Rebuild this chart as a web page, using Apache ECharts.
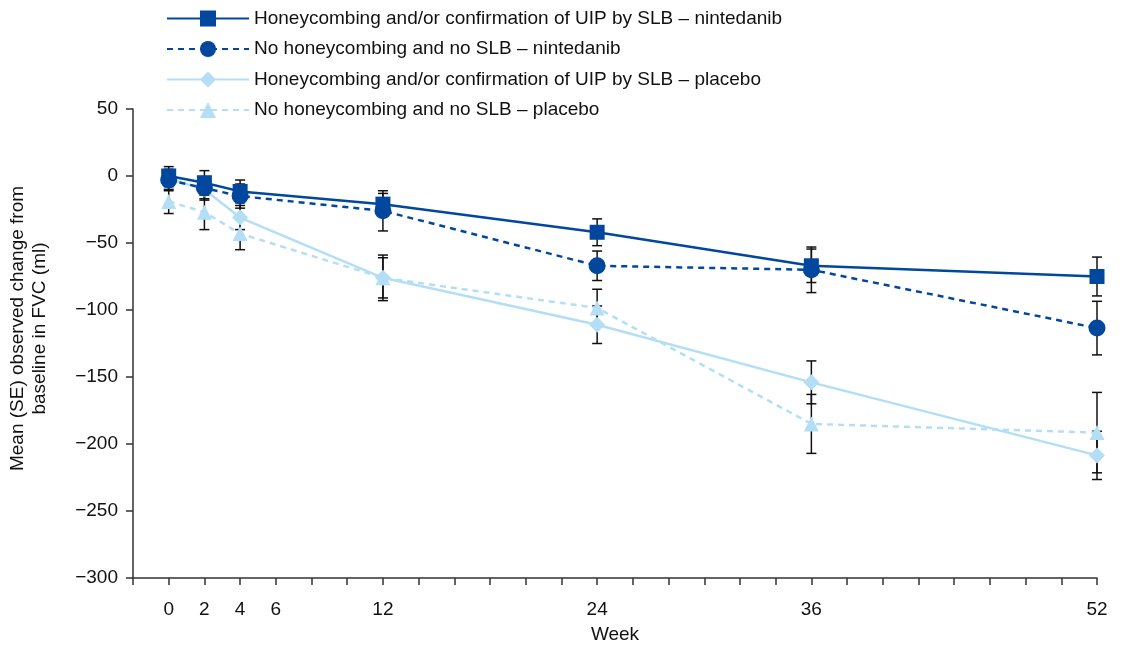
<!DOCTYPE html>
<html>
<head>
<meta charset="utf-8">
<script src="https://cdn.jsdelivr.net/npm/echarts@6/dist/echarts.min.js"></script>
<style>
html,body{margin:0;padding:0;background:#fff;}
#chart{width:1122px;height:645px;}
</style>
</head>
<body>
<div id="chart"></div>
<script>
var weeks = [0, 2, 4, 12, 24, 36, 52];
var xTickLabels = [0, 2, 4, 6, 12, 24, 36, 52];
var seriesNames = [
  'Honeycombing and/or confirmation of UIP by SLB \u2013 nintedanib',
  'No honeycombing and no SLB \u2013 nintedanib',
  'Honeycombing and/or confirmation of UIP by SLB \u2013 placebo',
  'No honeycombing and no SLB \u2013 placebo'
];
var hcNintedanib = [0, -5, -11.5, -21, -42, -67, -75];
var hcNintedanibSE = [7, 9, 8.5, 8, 10, 12.5, 14.5];
var noNintedanib = [-3, -9, -15, -26, -67, -70, -113.5];
var noNintedanibSE = [8, 8, 9, 15, 11, 17, 20];
var hcPlacebo = [-2, -10, -31, -76, -111, -154, -208.5];
var hcPlaceboSE = [6, 8, 9, 17, 14, 16, 18];
var noPlacebo = [-19, -27, -43, -76, -98.5, -185, -191.5];
var noPlaceboSE = [9, 13, 12, 15, 14, 22, 30];

var DARK = '#00479d';
var LIGHT = '#b3def6';
var FONT = 'Liberation Sans, Arial, sans-serif';

function pts(vals) { return weeks.map(function (w, i) { return [w, vals[i]]; }); }
function errData(vals, se) { return weeks.map(function (w, i) { return [w, vals[i] - se[i], vals[i] + se[i]]; }); }

function errSeries(vals, se) {
  return {
    type: 'custom',
    silent: true,
    z: 1,
    data: errData(vals, se),
    encode: { x: 0, y: [1, 2] },
    renderItem: function (params, api) {
      var x = api.value(0);
      var lo = api.coord([x, api.value(1)]);
      var hi = api.coord([x, api.value(2)]);
      var c = 5;
      var st = { stroke: '#111', lineWidth: 1.5 };
      return {
        type: 'group',
        children: [
          { type: 'line', shape: { x1: lo[0], y1: lo[1], x2: hi[0], y2: hi[1] }, style: st },
          { type: 'line', shape: { x1: lo[0] - c, y1: lo[1], x2: lo[0] + c, y2: lo[1] }, style: st },
          { type: 'line', shape: { x1: hi[0] - c, y1: hi[1], x2: hi[0] + c, y2: hi[1] }, style: st }
        ]
      };
    }
  };
}

function lineSeries(name, vals, color, dashed, symbol, size) {
  return {
    name: name,
    type: 'line',
    z: 3,
    data: pts(vals),
    symbol: symbol,
    symbolSize: size,
    showAllSymbol: true,
    itemStyle: { color: color, opacity: 1 },
    lineStyle: { color: color, width: 2.5, type: dashed ? [6, 5] : 'solid' },
    emphasis: { disabled: true }
  };
}

var chart = echarts.init(document.getElementById('chart'));
chart.setOption({
  animation: false,
  backgroundColor: '#fff',
  textStyle: { fontFamily: FONT },
  legend: {
    left: 161,
    top: 4,
    orient: 'vertical',
    itemWidth: 82,
    itemHeight: 20,
    itemGap: 11.5,
    textStyle: { fontSize: 19, color: '#111', fontFamily: FONT },
    data: seriesNames
  },
  grid: { left: 133, right: 25, top: 109, bottom: 67, containLabel: false, outerBoundsMode: 'none' },
  xAxis: {
    type: 'value',
    min: -2,
    max: 52,
    interval: 2,
    name: 'Week',
    nameLocation: 'middle',
    nameGap: 47,
    nameTextStyle: { fontSize: 19, color: '#111', fontFamily: FONT },
    axisLine: { onZero: false, lineStyle: { color: '#333', width: 1.5 } },
    axisTick: { show: true, inside: false, length: 7, lineStyle: { color: '#333', width: 1.5 } },
    splitLine: { show: false },
    axisLabel: {
      fontSize: 19, color: '#111', margin: 22, fontFamily: FONT,
      formatter: function (v) { return xTickLabels.indexOf(v) >= 0 ? String(v) : ''; }
    }
  },
  yAxis: {
    type: 'value',
    min: -300,
    max: 50,
    interval: 50,
    name: 'Mean (SE) observed change from\nbaseline in FVC (ml)',
    nameLocation: 'middle',
    nameGap: 82,
    nameRotate: 90,
    nameTextStyle: { fontSize: 19, color: '#111', fontFamily: FONT, lineHeight: 22, padding: [0, 0, 0, 30] },
    axisLine: { show: true, onZero: false, lineStyle: { color: '#333', width: 1.5 } },
    axisTick: { show: true, inside: false, length: 7, lineStyle: { color: '#333', width: 1.5 } },
    splitLine: { show: false },
    axisLabel: {
      fontSize: 19, color: '#111', margin: 15, fontFamily: FONT,
      formatter: function (v) { return v < 0 ? '\u2212' + Math.abs(v) : String(v); }
    }
  },
  series: [
    errSeries(hcNintedanib, hcNintedanibSE),
    errSeries(noNintedanib, noNintedanibSE),
    errSeries(hcPlacebo, hcPlaceboSE),
    errSeries(noPlacebo, noPlaceboSE),
    lineSeries(seriesNames[3], noPlacebo, LIGHT, true, 'triangle', 15),
    lineSeries(seriesNames[2], hcPlacebo, LIGHT, false, 'diamond', 16),
    lineSeries(seriesNames[1], noNintedanib, DARK, true, 'circle', 17),
    lineSeries(seriesNames[0], hcNintedanib, DARK, false, 'rect', 15)
  ]
});
</script>
</body>
</html>
